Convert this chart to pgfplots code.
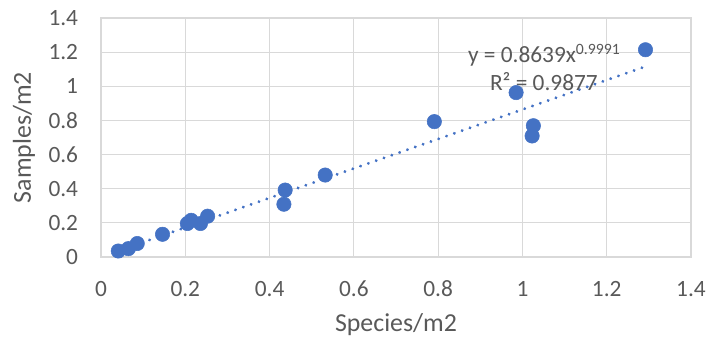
\documentclass[border=0pt]{standalone}
\usepackage{fontspec}
\setmainfont{Carlito}
\usepackage{pgfplots}
\pgfplotsset{compat=1.18}
\definecolor{mblue}{HTML}{4472C4}
\definecolor{gridc}{HTML}{D9D9D9}
\definecolor{txt}{HTML}{595959}
\begin{document}
\begin{tikzpicture}
\begin{axis}[
  at={(0,0)}, anchor=south west,
  scale only axis, width=442.5pt, height=179.25pt,
  xmin=0, xmax=1.4, ymin=0, ymax=1.4,
  xtick={0,0.2,...,1.4}, ytick={0,0.2,...,1.4},
  xticklabels={0,0.2,0.4,0.6,0.8,1,1.2,1.4},
  yticklabels={0,0.2,0.4,0.6,0.8,1,1.2,1.4},
  grid=major, major grid style={draw=gridc, line width=0.9pt},
  axis line style={draw=gridc, line width=0.9pt},
  major tick length=0pt,
  tick label style={font=\fontsize{17.5pt}{20pt}\selectfont, text=txt, inner sep=0pt},
  xticklabel style={anchor=north, yshift=-17.8pt},
  yticklabel style={anchor=east, xshift=-17pt},
  xlabel={Species/m2}, ylabel={Samples/m2},
  label style={font=\fontsize{19.4pt}{22pt}\selectfont, text=txt, inner sep=0pt},
  xlabel style={at={(axis description cs:0.5,-0.2845)}, anchor=center},
  ylabel style={at={(axis description cs:-0.1305,0.5)}, anchor=center},
  clip=false,
]
\addplot[only marks, mark=*, mark size=5.4pt, mark options={draw=mblue, fill=mblue}] coordinates {
  (0.041,0.035) (0.065,0.049) (0.086,0.079) (0.146,0.133)
  (0.205,0.196) (0.214,0.215) (0.236,0.196) (0.253,0.239)
  (0.437,0.392) (0.434,0.309) (0.532,0.480) (0.791,0.793)
  (0.985,0.963) (1.026,0.769) (1.023,0.709) (1.292,1.214)
};
\addplot[draw=mblue, line width=2.4pt, line cap=round, dash pattern=on 0.01pt off 6.2pt] coordinates {
  (0.041,0.035522) (0.1,0.086569) (0.2,0.17303) (0.4,0.34585) (0.6,0.51858)
  (0.8,0.69126) (1.0,0.8639) (1.2,1.03651) (1.292,1.11590)
};
\node[anchor=base, text=txt, inner sep=0pt, font=\fontsize{17.5pt}{20pt}\selectfont] at (axis cs:1.051,1.1365) {y = 0.8639x\raisebox{6pt}{\fontsize{11.8pt}{13pt}\selectfont 0.9991}};
\node[anchor=base, text=txt, inner sep=0pt, font=\fontsize{17.5pt}{20pt}\selectfont] at (axis cs:1.051,0.9725) {R² = 0.9877};
\end{axis}
\pgfresetboundingbox
\path (-75.75pt,-63pt) rectangle (454.5pt,192.75pt);
\end{tikzpicture}
\end{document}
